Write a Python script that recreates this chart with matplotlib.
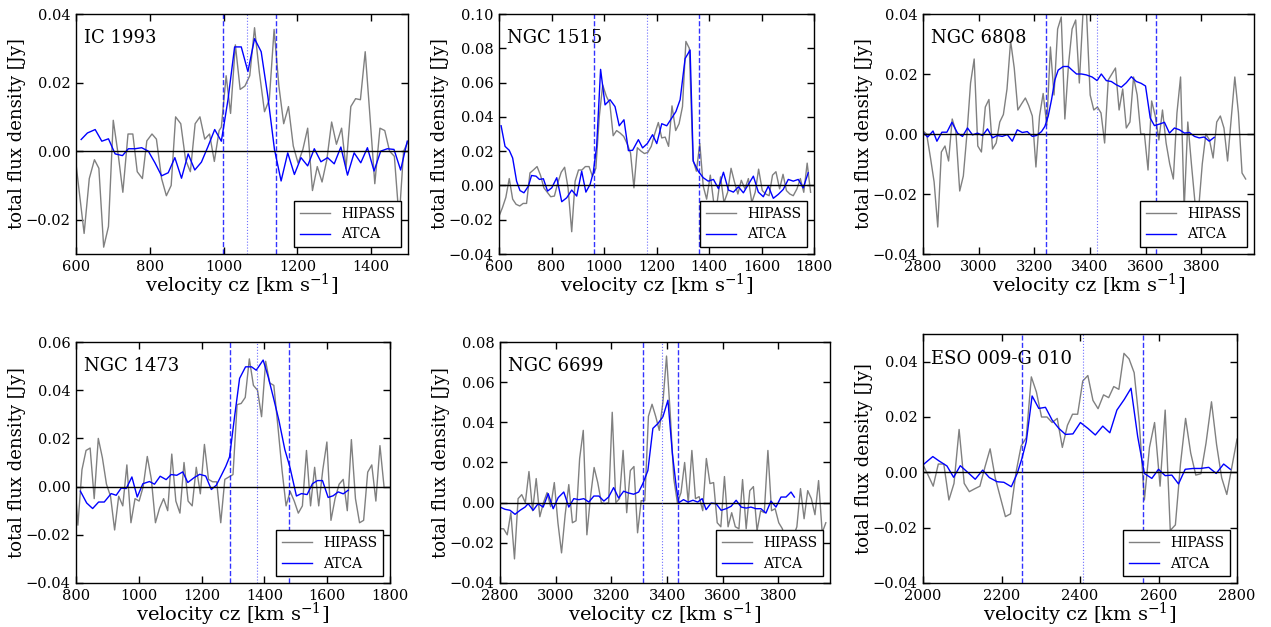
import matplotlib
matplotlib.use("Agg")
import matplotlib.pyplot as plt

plt.rcParams['font.family'] = ['DejaVu Serif']
plt.rcParams['mathtext.fontset'] = 'dejavuserif'

# ---------------- DATA ----------------
# IC 1993
ic1993_hipass_v = [596, 622, 636, 650, 662, 675, 688, 701, 715, 727, 741, 754, 766, 780, 792, 806, 818, 832, 845, 858,
                   870, 884, 897, 910, 923, 936, 949, 962, 975, 988, 994, 1007, 1019, 1032, 1045, 1058, 1071, 1084, 1097,
                   1111, 1124, 1137, 1150, 1163, 1176, 1189, 1202, 1215, 1228, 1241, 1254, 1267, 1280, 1293, 1306, 1320,
                   1332, 1345, 1358, 1371, 1384, 1397, 1410, 1424, 1437, 1450, 1463, 1476, 1488, 1501]
ic1993_hipass_f = [0.0, -0.024, -0.008, -0.0025, -0.005, -0.028, -0.022, 0.009, -0.0015, -0.012, 0.005, 0.005, -0.006,
                   -0.008, 0.003, 0.005, 0.0035, -0.008, -0.013, -0.010, 0.010, 0.008, -0.0025, -0.006, 0.008, 0.010,
                   0.0035, 0.005, -0.003, 0.006, 0.007, 0.022, 0.011, 0.031, 0.018, 0.019, 0.022, 0.036, 0.023, 0.0115,
                   0.015, 0.0355, 0.019, 0.008, 0.013, 0.0015, -0.0035, 0.0005, 0.0067, -0.0115, -0.0045, -0.009,
                   -0.0025, 0.0085, 0.002, 0.0067, -0.005, 0.013, 0.0153, 0.015, 0.029, 0.010, -0.0095, 0.0067, 0.006,
                   0.0, -0.0015, -0.020, 0.0, 0.003]
ic1993_atca_v = [614, 631, 652, 670, 688, 706, 726, 742, 760, 778, 796, 814, 832, 850, 868, 886, 904, 922, 940, 958,
                 976, 994, 1012, 1030, 1048, 1066, 1084, 1102, 1120, 1138, 1156, 1174, 1192, 1210, 1228, 1246, 1264,
                 1282, 1300, 1318, 1336, 1354, 1372, 1390, 1408, 1426, 1444, 1462, 1480, 1498]
ic1993_atca_f = [0.0034, 0.0053, 0.0063, 0.0029, 0.0036, -0.0008, -0.0013, 0.0007, 0.0007, 0.0010, 0.0, -0.0034,
                 -0.0072, -0.0063, -0.0019, -0.0079, -0.0008, -0.0055, -0.0032, 0.0014, 0.0063, 0.0029, 0.015, 0.0304,
                 0.0304, 0.0232, 0.0328, 0.029, 0.016, 0.0005, -0.0087, -0.0005, -0.0068, -0.0019, -0.0043, 0.0007,
                 -0.0031, -0.0019, -0.0037, 0.0012, -0.0070, -0.0005, -0.0034, 0.0010, -0.0058, 0.0, 0.0007, 0.0005,
                 -0.0055, 0.0029]
ic1993_vrange = [998, 1143]
ic1993_vsys = 1064

# NGC 1515
ngc1515_hipass_v = [600, 613, 626, 639, 652, 665, 679, 692, 705, 718, 731, 745, 758, 771, 784, 797, 811, 824, 837, 850,
                    863, 877, 890, 903, 916, 929, 943, 956, 969, 982, 995, 1009, 1022, 1035, 1048, 1061, 1075, 1088,
                    1101, 1114, 1127, 1141, 1154, 1167, 1180, 1193, 1207, 1220, 1233, 1246, 1259, 1273, 1286, 1299,
                    1312, 1325, 1339, 1352, 1365, 1378, 1391, 1405, 1418, 1431, 1444, 1457, 1471, 1484, 1497, 1510,
                    1523, 1537, 1550, 1563, 1576, 1589, 1603, 1616, 1629, 1642, 1655, 1669, 1682, 1695, 1708, 1721,
                    1735, 1748, 1761, 1774, 1787]
ngc1515_hipass_f = [-0.018, -0.013, -0.007, 0.004, -0.008, -0.011, -0.012, -0.0105, -0.0105, 0.0073, 0.009, 0.011,
                    0.006, -0.0014, -0.004, -0.0066, -0.0062, 0.0015, 0.0077, 0.0106, -0.0014, -0.027, 0.0025, 0.009,
                    0.009, 0.011, 0.011, 0.0054, 0.010, 0.040, 0.0586, 0.052, 0.048, 0.029, 0.032, 0.0306, 0.0286,
                    0.0244, 0.019, -0.0014, 0.022, 0.020, 0.0186, 0.0193, 0.0228, 0.030, 0.0367, 0.0277, 0.0282,
                    0.0228, 0.0464, 0.032, 0.036, 0.046, 0.084, 0.080, 0.015, 0.0083, 0.0244, -0.0004, -0.008, 0.006,
                    -0.010, -0.010, 0.005, -0.010, -0.004, 0.010, 0.002, -0.005, 0.003, -0.002, 0.004, -0.010, -0.004,
                    0.0095, -0.003, -0.005, -0.006, 0.006, 0.008, -0.002, 0.0065, -0.003, -0.005, -0.006, -0.002,
                    0.004, -0.004, 0.013, -0.004]
ngc1515_atca_v = [608, 623, 639, 652, 667, 680, 695, 712, 724, 741, 754, 769, 785, 801, 820, 839, 858, 877, 896, 915,
                  931, 947, 959, 972, 987, 1004, 1023, 1042, 1058, 1076, 1093, 1109, 1131, 1147, 1165, 1185, 1201,
                  1220, 1239, 1258, 1274, 1290, 1309, 1328, 1340, 1359, 1378, 1397, 1417, 1436, 1455, 1474, 1493,
                  1512, 1531, 1550, 1569, 1588, 1607, 1626, 1645, 1664, 1683, 1702, 1721, 1740, 1759, 1778]
ngc1515_atca_f = [0.0348, 0.0228, 0.0205, 0.016, 0.0025, -0.003, -0.0043, -0.0004, 0.0058, 0.0054, 0.0035, 0.0039,
                  -0.0033, -0.0014, 0.0045, -0.0095, -0.0072, -0.0027, -0.0062, 0.0083, -0.0039, 0.0006, 0.0074,
                  0.0228, 0.0677, 0.047, 0.050, 0.046, 0.0348, 0.0383, 0.0203, 0.0205, 0.0267, 0.0219, 0.0244,
                  0.0296, 0.0244, 0.036, 0.0348, 0.0393, 0.0431, 0.050, 0.074, 0.079, 0.0141, 0.0083, 0.0045, 0.0025,
                  0.0035, -0.0019, 0.0077, -0.0027, -0.0039, -0.0008, -0.0043, 0.0006, 0.0054, -0.0039, -0.0066,
                  -0.0004, -0.0075, -0.0052, -0.0023, 0.0035, 0.0025, 0.0035, -0.0014, 0.0074]
ngc1515_vrange = [962, 1362]
ngc1515_vsys = 1165

# NGC 6808
ngc6808_hipass_v = [2800, 2813, 2827, 2840, 2853, 2866, 2879, 2892, 2905, 2918, 2932, 2945, 2958, 2971, 2984, 2997,
                    3010, 3024, 3037, 3050, 3063, 3076, 3089, 3102, 3115, 3128, 3141, 3154, 3168, 3180, 3193, 3206,
                    3219, 3232, 3245, 3258, 3271, 3284, 3297, 3310, 3323, 3336, 3349, 3362, 3375, 3388, 3401, 3414,
                    3427, 3440, 3453, 3466, 3479, 3492, 3505, 3518, 3531, 3544, 3557, 3570, 3583, 3596, 3609, 3622,
                    3635, 3648, 3661, 3674, 3687, 3700, 3713, 3726, 3739, 3752, 3765, 3778, 3791, 3804, 3817, 3830,
                    3843, 3856, 3869, 3882, 3895, 3908, 3921, 3934, 3947, 3960]
ngc6808_hipass_f = [0.001, 0.0, -0.008, -0.016, -0.031, -0.006, -0.004, -0.009, 0.005, 0.001, -0.019, -0.014, 0.0,
                    0.017, 0.025, -0.004, -0.006, 0.009, 0.0115, -0.005, -0.003, 0.004, 0.0065, 0.015, 0.031, 0.022,
                    0.008, 0.010, 0.012, 0.0095, 0.006, -0.011, 0.006, 0.0135, 0.003, 0.029, 0.013, 0.035, 0.039,
                    0.005, 0.023, 0.035, 0.038, 0.017, 0.040, 0.040, 0.013, 0.008, 0.009, 0.007, -0.003, 0.018, 0.020,
                    0.022, 0.008, 0.015, 0.002, 0.004, 0.019, 0.013, 0.0, 0.0, -0.012, 0.011, 0.006, -0.002, 0.008,
                    -0.003, -0.010, -0.015, 0.007, 0.019, -0.025, 0.004, -0.010, -0.023, -0.025, -0.010, 0.0, -0.002,
                    -0.008, 0.004, 0.006, 0.002, -0.009, 0.005, 0.019, 0.007, -0.013, -0.015]
ngc6808_atca_v = [2802, 2817, 2836, 2850, 2868, 2886, 2904, 2924, 2942, 2960, 2978, 2996, 3014, 3032, 3050, 3067,
                  3085, 3103, 3121, 3139, 3157, 3175, 3193, 3208, 3226, 3238, 3250, 3262, 3274, 3286, 3304, 3322,
                  3336, 3352, 3370, 3387, 3408, 3426, 3441, 3459, 3477, 3495, 3513, 3531, 3549, 3567, 3584, 3600,
                  3617, 3632, 3650, 3668, 3686, 3704, 3722, 3740, 3758, 3776, 3793, 3811, 3829, 3847]
ngc6808_atca_f = [0.0003, -0.001, 0.001, -0.0024, 0.0006, 0.0006, 0.0039, 0.0003, -0.0008, 0.002, -0.0003, 0.0003,
                  -0.0005, 0.0017, -0.0013, -0.0005, -0.0008, -0.0002, -0.0024, 0.0014, 0.0005, 0.0008, -0.0008,
                  -0.0005, 0.0008, 0.0025, 0.0059, 0.0114, 0.018, 0.0213, 0.0225, 0.0225, 0.0213, 0.020, 0.020,
                  0.0197, 0.019, 0.0178, 0.020, 0.0178, 0.0175, 0.0164, 0.0156, 0.0171, 0.0191, 0.0175, 0.0169,
                  0.016, 0.0053, 0.0028, 0.0033, 0.0039, 0.0003, 0.002, 0.0014, 0.0003, 0.0005, -0.0008, -0.0013,
                  -0.001, -0.0024, -0.0011]
ngc6808_vrange = [3241, 3636]
ngc6808_vsys = 3424

# NGC 1473
ngc1473_hipass_v = [800, 806, 819, 832, 845, 858, 871, 884, 897, 910, 923, 936, 949, 962, 975, 988, 1001, 1014, 1027,
                    1040, 1053, 1066, 1079, 1092, 1105, 1118, 1131, 1144, 1157, 1170, 1183, 1196, 1209, 1222, 1235,
                    1248, 1261, 1274, 1287, 1300, 1313, 1326, 1339, 1352, 1365, 1378, 1391, 1404, 1417, 1430, 1443,
                    1456, 1469, 1482, 1495, 1508, 1521, 1534, 1547, 1560, 1573, 1586, 1599, 1612, 1625, 1638, 1651,
                    1664, 1677, 1690, 1703, 1716, 1729, 1742, 1755, 1768, 1781]
ngc1473_hipass_f = [-0.005, -0.016, 0.007, 0.015, 0.016, -0.005, 0.020, 0.012, 0.001, -0.004, -0.018, -0.004, -0.008,
                    0.009, -0.015, -0.005, -0.006, 0.0, 0.0125, 0.003, -0.015, -0.009, -0.005, -0.010, 0.0135,
                    -0.006, -0.011, 0.010, -0.006, -0.008, 0.008, -0.003, 0.0175, 0.003, 0.002, 0.002, -0.015, 0.003,
                    0.004, 0.005, 0.034, 0.0345, 0.037, 0.053, 0.042, 0.040, 0.029, 0.052, 0.043, 0.042, 0.025, 0.007,
                    -0.008, -0.002, -0.006, -0.011, -0.008, 0.015, -0.008, 0.008, -0.008, 0.007, 0.0185, -0.014,
                    -0.005, 0.001, 0.003, -0.010, 0.0195, -0.005, -0.015, -0.014, 0.006, 0.009, -0.006, 0.017, 0.0]
ngc1473_atca_v = [814, 834, 853, 872, 890, 912, 928, 944, 960, 978, 995, 1013, 1034, 1050, 1068, 1087, 1103, 1121,
                  1140, 1156, 1176, 1194, 1213, 1231, 1247, 1263, 1277, 1289, 1305, 1321, 1340, 1359, 1374, 1396,
                  1412, 1428, 1446, 1465, 1481, 1502, 1518, 1536, 1553, 1569, 1585, 1603, 1619, 1635, 1651, 1667]
ngc1473_atca_f = [-0.0019, -0.0068, -0.0091, -0.0064, -0.0064, -0.0029, -0.0036, -0.0006, -0.0008, 0.004, -0.0043,
                  0.0012, 0.0021, 0.001, 0.0043, 0.0029, 0.005, 0.0047, 0.0061, 0.0017, 0.0037, 0.0051, 0.0044,
                  -0.0012, 0.0006, 0.0047, 0.0084, 0.0123, 0.029, 0.0449, 0.0497, 0.0497, 0.0483, 0.0525, 0.0456,
                  0.0373, 0.0276, 0.0154, 0.0082, -0.0039, -0.0029, -0.0033, 0.0012, 0.0025, 0.0025, -0.0045,
                  -0.0038, -0.0022, -0.0030, -0.0015]
ngc1473_vrange = [1291, 1477]
ngc1473_vsys = 1377

# NGC 6699
ngc6699_hipass_v = [2800, 2813, 2826, 2839, 2852, 2865, 2878, 2891, 2904, 2917, 2930, 2943, 2956, 2969, 2982, 2995,
                    3008, 3021, 3034, 3047, 3060, 3073, 3086, 3099, 3112, 3125, 3138, 3151, 3164, 3177, 3190, 3203,
                    3216, 3229, 3242, 3255, 3268, 3281, 3294, 3307, 3320, 3333, 3346, 3359, 3372, 3385, 3398, 3411,
                    3424, 3437, 3450, 3463, 3476, 3489, 3502, 3515, 3528, 3541, 3554, 3567, 3580, 3593, 3606, 3619,
                    3632, 3645, 3658, 3671, 3684, 3697, 3710, 3723, 3736, 3749, 3762, 3775, 3788, 3801, 3814, 3827,
                    3840, 3853, 3866, 3879, 3892, 3905, 3918, 3931, 3944, 3957, 3970]
ngc6699_hipass_f = [-0.013, -0.013, -0.016, -0.005, -0.028, 0.002, 0.004, 0.0, 0.0155, -0.004, 0.012, -0.007, 0.0,
                    0.005, -0.002, 0.010, -0.010, -0.025, -0.006, 0.009, -0.010, -0.009, 0.022, 0.036, -0.016, 0.003,
                    0.0175, 0.010, 0.0, -0.0005, 0.0, 0.045, 0.0, 0.002, 0.026, -0.005, 0.016, 0.018, -0.015, 0.001,
                    0.001, 0.043, 0.049, 0.043, 0.036, 0.050, 0.073, 0.045, 0.012, 0.0, 0.005, 0.020, 0.0, 0.026,
                    0.002, 0.003, -0.004, 0.022, 0.0095, 0.010, -0.010, -0.012, 0.013, -0.012, -0.005, -0.012, -0.013,
                    0.0115, -0.013, 0.006, 0.008, -0.014, -0.004, -0.005, 0.026, -0.004, -0.003, -0.010, -0.013,
                    -0.020, -0.030, -0.017, -0.012, 0.007, -0.008, 0.006, 0.002, -0.006, 0.011, -0.015, -0.010]
ngc6699_atca_v = [2800, 2818, 2836, 2854, 2872, 2890, 2901, 2919, 2937, 2955, 2973, 2991, 3009, 3029, 3047, 3065,
                  3083, 3101, 3119, 3137, 3155, 3173, 3190, 3208, 3226, 3244, 3262, 3280, 3298, 3313, 3331, 3349,
                  3367, 3385, 3403, 3419, 3433, 3442, 3459, 3475, 3493, 3510, 3526, 3540, 3558, 3576, 3594, 3612,
                  3630, 3648, 3666, 3684, 3701, 3719, 3737, 3755, 3773, 3791, 3809, 3827, 3845, 3857]
ngc6699_atca_f = [-0.0022, -0.0033, -0.0038, -0.0058, -0.0038, -0.0022, -0.0005, -0.0038, -0.0005, -0.0022, 0.0045,
                  -0.003, 0.0025, 0.0053, -0.0022, 0.002, 0.0015, 0.002, 0.0003, 0.0033, 0.0033, 0.0008, 0.0028,
                  0.0075, 0.0023, 0.0057, 0.0048, 0.0042, 0.0053, 0.0095, 0.016, 0.037, 0.0394, 0.0428, 0.051,
                  0.0245, 0.0078, 0.0, 0.0015, 0.0003, 0.0012, 0.0003, 0.002, -0.0035, -0.0002, -0.0005, -0.0038,
                  -0.003, -0.0018, 0.0012, -0.0022, -0.0027, -0.0022, -0.003, -0.003, -0.0052, 0.0008, -0.0022,
                  0.0028, 0.0028, 0.0053, 0.0028]
ngc6699_vrange = [3315, 3440]
ngc6699_vsys = 3381

# ESO 009-G 010
eso009_hipass_v = [2000, 2013, 2026, 2039, 2053, 2066, 2079, 2092, 2105, 2118, 2131, 2145, 2158, 2171, 2184, 2197,
                   2210, 2223, 2237, 2250, 2263, 2276, 2289, 2302, 2316, 2329, 2342, 2355, 2368, 2381, 2394, 2407,
                   2420, 2433, 2446, 2460, 2473, 2486, 2499, 2512, 2525, 2538, 2551, 2564, 2577, 2590, 2604, 2617,
                   2630, 2643, 2656, 2669, 2682, 2695, 2708, 2721, 2735, 2748, 2761, 2774, 2787, 2800]
eso009_hipass_f = [0.0027, -0.001, -0.005, 0.003, 0.003, -0.010, -0.004, 0.0155, -0.004, -0.007, -0.006, -0.005,
                   0.002, 0.0085, -0.002, -0.009, -0.016, -0.015, 0.0, 0.0095, 0.0125, 0.0345, 0.029, 0.020, 0.020,
                   0.018, 0.0195, 0.009, 0.017, 0.021, 0.021, 0.033, 0.035, 0.026, 0.023, 0.028, 0.027, 0.031, 0.030,
                   0.043, 0.041, 0.036, 0.018, -0.010, 0.009, 0.018, -0.005, 0.0225, -0.021, -0.019, 0.003, 0.0195,
                   0.007, -0.001, -0.0005, 0.0105, 0.0255, 0.010, -0.002, -0.008, 0.002, 0.012]
eso009_atca_v = [2000, 2025, 2040, 2061, 2078, 2095, 2114, 2133, 2152, 2169, 2189, 2206, 2225, 2240, 2252, 2263, 2278,
                 2295, 2312, 2329, 2346, 2363, 2382, 2401, 2420, 2439, 2458, 2476, 2494, 2513, 2530, 2547, 2564,
                 2583, 2600, 2617, 2634, 2651, 2668, 2688, 2707, 2728, 2747, 2766, 2783]
eso009_atca_f = [0.0027, 0.0057, 0.0042, 0.0023, -0.0018, 0.0024, 0.0, -0.0025, 0.0008, -0.0019, -0.0034, -0.0036,
                 -0.0052, -0.0004, 0.005, 0.011, 0.0276, 0.0231, 0.0235, 0.0189, 0.0159, 0.0137, 0.0139, 0.018,
                 0.0159, 0.0135, 0.0167, 0.0143, 0.0225, 0.0264, 0.0304, 0.0129, -0.0004, -0.0022, 0.0011, -0.0012,
                 -0.001, -0.0042, 0.0011, 0.0014, 0.0014, 0.0018, -0.0004, 0.003, 0.0011]
eso009_vrange = [2253, 2561]
eso009_vsys = 2408

names = ["IC 1993", "NGC 1515", "NGC 6808", "NGC 1473", "NGC 6699", "ESO 009-G 010"]
xlims = [(600, 1500), (600, 1800), (2800, 3990), (800, 1800), (2800, 3985), (2000, 2800)]
ylims = [(-0.03, 0.04), (-0.04, 0.10), (-0.04, 0.04), (-0.04, 0.06), (-0.04, 0.08), (-0.04, 0.05)]
xticks = [[600, 800, 1000, 1200, 1400], [600, 800, 1000, 1200, 1400, 1600, 1800],
          [2800, 3000, 3200, 3400, 3600, 3800], [800, 1000, 1200, 1400, 1600, 1800],
          [2800, 3000, 3200, 3400, 3600, 3800], [2000, 2200, 2400, 2600, 2800]]
yticks = [[-0.02, 0.00, 0.02, 0.04], [-0.04, -0.02, 0.0, 0.02, 0.04, 0.06, 0.08, 0.10],
          [-0.04, -0.02, 0.0, 0.02, 0.04], [-0.04, -0.02, 0.0, 0.02, 0.04, 0.06],
          [-0.04, -0.02, 0.0, 0.02, 0.04, 0.06, 0.08], [-0.04, -0.02, 0.0, 0.02, 0.04]]

hipass_v = [ic1993_hipass_v, ngc1515_hipass_v, ngc6808_hipass_v, ngc1473_hipass_v, ngc6699_hipass_v, eso009_hipass_v]
hipass_f = [ic1993_hipass_f, ngc1515_hipass_f, ngc6808_hipass_f, ngc1473_hipass_f, ngc6699_hipass_f, eso009_hipass_f]
atca_v = [ic1993_atca_v, ngc1515_atca_v, ngc6808_atca_v, ngc1473_atca_v, ngc6699_atca_v, eso009_atca_v]
atca_f = [ic1993_atca_f, ngc1515_atca_f, ngc6808_atca_f, ngc1473_atca_f, ngc6699_atca_f, eso009_atca_f]
vranges = [ic1993_vrange, ngc1515_vrange, ngc6808_vrange, ngc1473_vrange, ngc6699_vrange, eso009_vrange]
vsys = [ic1993_vsys, ngc1515_vsys, ngc6808_vsys, ngc1473_vsys, ngc6699_vsys, eso009_vsys]

# ---------------- LAYOUT (pixel boxes: left, right, top, bottom) ----------------
W, H = 1271, 627
boxes = [(76, 408, 14, 254), (499, 814, 14, 254), (923, 1254, 14, 254),
         (76, 390, 342, 583), (500, 830, 342, 583), (923, 1237, 334, 583)]
ylabel_offset_px = [50, 50, 50, 50, 50, 50]

fig = plt.figure(figsize=(W / 100, H / 100), dpi=100)

for i in range(6):
    l, r, t, b = boxes[i]
    ax = fig.add_axes([l / W, 1 - b / H, (r - l) / W, (b - t) / H])
    ax.plot(hipass_v[i], hipass_f[i], color='#808080', lw=1.0, label='HIPASS')
    ax.plot(atca_v[i], atca_f[i], color='#0000ff', lw=1.0, label='ATCA')
    ax.axhline(0, color='black', lw=1.0)
    for vv in vranges[i]:
        ax.axvline(vv, color='#0000ff', ls='--', lw=1.0, alpha=0.8)
    ax.axvline(vsys[i], color='#3333ff', ls=':', lw=0.8, alpha=0.7)
    ax.set_xlim(*xlims[i])
    ax.set_ylim(*ylims[i])
    ax.set_xticks(xticks[i])
    ax.set_yticks(yticks[i])
    ax.set_yticklabels([f"{v:.2f}".replace('-', '\u2212') for v in yticks[i]])
    ax.tick_params(direction='in', top=True, right=True, length=5, width=1, labelsize=10.5, pad=4)
    ax.set_xlabel(r'velocity cz [km s$^{-1}$]', fontsize=14, labelpad=-1)
    ax.set_ylabel('total flux density [Jy]', fontsize=13)
    ax.yaxis.set_label_coords(-ylabel_offset_px[i] / (r - l), 0.5)
    ax.text(0.025, 0.9, names[i], transform=ax.transAxes, fontsize=13, ha='left', va='center')
    leg = ax.legend(loc='lower right', fontsize=10, fancybox=False, framealpha=1, edgecolor='black',
                    borderaxespad=0.5, handlelength=2.2)
    leg.get_frame().set_linewidth(1.0)
    for sp in ax.spines.values():
        sp.set_linewidth(1.0)

fig.savefig('out.png', dpi=100)
